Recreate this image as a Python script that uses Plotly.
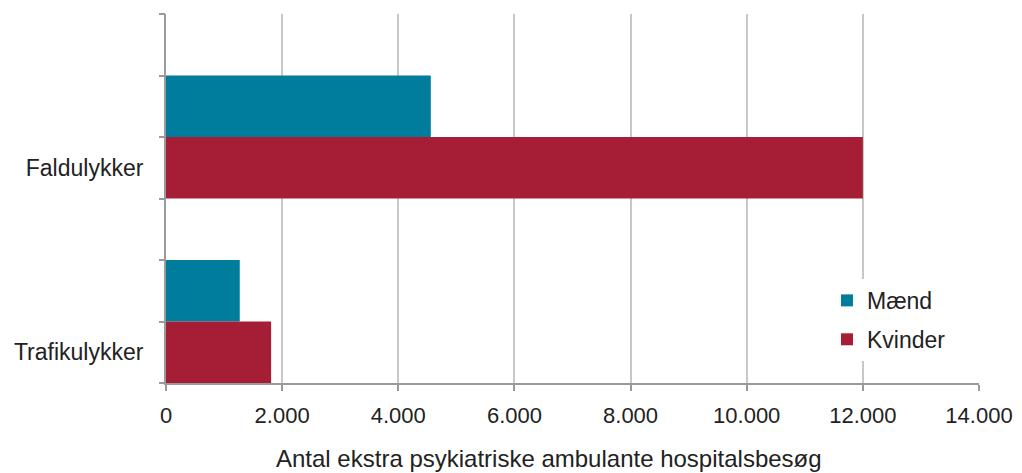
import plotly.graph_objects as go

categories = ["Faldulykker", "Trafikulykker"]
maend = [4560, 1270]
kvinder = [12000, 1810]
x_ticks = [0, 2000, 4000, 6000, 8000, 10000, 12000, 14000]
x_title = "Antal ekstra psykiatriske ambulante hospitalsbesøg"

# each category occupies 3 slots (empty gap, Mænd, Kvinder) counting from the top
n = len(categories)
pos_m = [3 * (n - i) - 1.5 for i in range(n)]
pos_k = [3 * (n - i) - 2.5 for i in range(n)]

teal = "#007C9D"
crimson = "#A61E36"
font = "Liberation Sans, Arial, sans-serif"

fig = go.Figure()
fig.add_trace(go.Bar(name="Mænd", orientation="h", x=maend, y=pos_m, width=1,
                     legendgroup="m",
                     marker=dict(color=teal, line=dict(width=0))))
fig.add_trace(go.Bar(name="Kvinder", orientation="h", x=kvinder, y=pos_k, width=1,
                     legendgroup="k",
                     marker=dict(color=crimson, line=dict(width=0))))
# invisible trace to drive the secondary tick-mark axis
fig.add_trace(go.Scatter(x=[0], y=[0], yaxis="y2", mode="markers",
                         marker=dict(opacity=0), showlegend=False, hoverinfo="skip"))

fig.update_layout(
    width=1022, height=473,
    margin=dict(l=158, r=51, t=6, b=98),
    paper_bgcolor="white", plot_bgcolor="white",
    separators=",.",
    barmode="overlay",
    font=dict(family=font, size=23, color="#222222"),
    xaxis=dict(range=[0, 14000], tickvals=x_ticks, tickformat=",d",
               showgrid=True, gridcolor="#c8c8c8", gridwidth=2,
               zeroline=False, showline=True, linecolor="#9a9a9a", linewidth=2,
               ticks="outside", ticklen=6, tickcolor="#9a9a9a", tickwidth=2,
               ticklabelstandoff=6, tickfont=dict(size=22)),
    yaxis=dict(range=[0, 3 * n], tickvals=pos_k, ticktext=categories,
               showgrid=False, zeroline=False, showline=True,
               linecolor="#9a9a9a", linewidth=2, ticks="",
               tickfont=dict(size=23), ticklabelstandoff=16),
    yaxis2=dict(range=[0, 3 * n], overlaying="y", side="left",
                tickvals=list(range(3 * n + 1)), showticklabels=False,
                ticks="outside", ticklen=6, tickcolor="#9a9a9a", tickwidth=2,
                showgrid=False, zeroline=False, showline=False),
    legend=dict(x=0.813, y=0.282, xanchor="left", yanchor="top",
                bgcolor="white", font=dict(size=23), traceorder="grouped",
                tracegroupgap=6, itemwidth=30),
    showlegend=True,
    annotations=[dict(text=x_title, xref="paper", yref="paper",
                      x=0.4705, y=-0.205, xanchor="center", yanchor="middle",
                      showarrow=False, font=dict(size=24))],
)

fig.write_html("out.html")
